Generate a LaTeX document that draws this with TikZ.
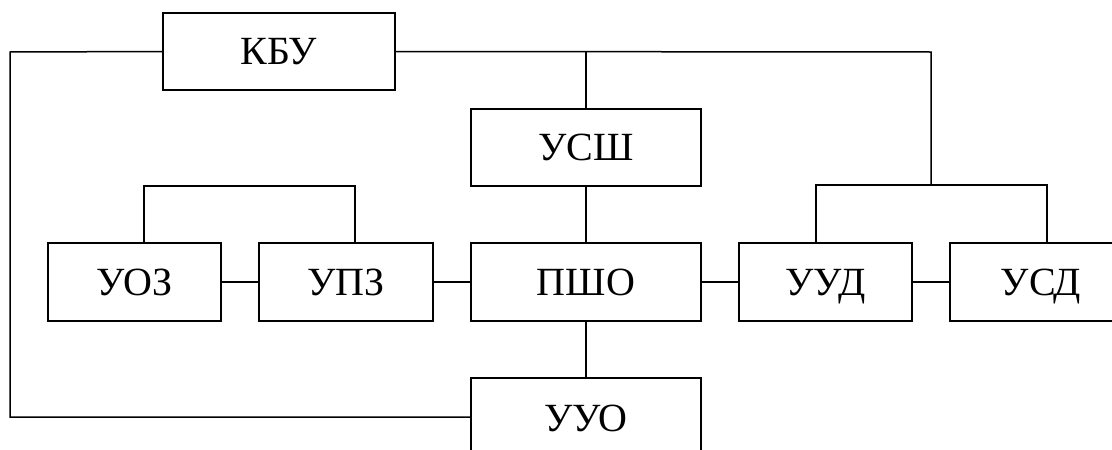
\documentclass[tikz,border=0pt]{standalone}
\usepackage{fontspec}
\setmainfont{Liberation Serif}
\tikzset{
  blk/.style={draw, line width=1.8pt, inner sep=0pt, outer sep=0pt, minimum height=77pt, text height=26.5pt, text depth=0pt, font=\fontsize{40}{48}\selectfont},
  conn/.style={line width=1.5pt}
}
\begin{document}
\begin{tikzpicture}[x=1pt,y=-1pt]
\useasboundingbox (0,0) rectangle (1112,450);
\clip (0,0) rectangle (1112,450);
\fill[white] (0,0) rectangle (1112,450);
% boxes
\node[blk, minimum width=232pt] (kbu) at (279,51.5) {КБУ};
\node[blk, minimum width=230pt] (usk) at (586,147.5) {УСШ};
\node[blk, minimum width=173pt, minimum height=78pt] (uoz) at (134.5,282) {УОЗ};
\node[blk, minimum width=174pt, minimum height=78pt] (upz) at (346,282) {УПЗ};
\node[blk, minimum width=230pt, minimum height=78pt] (psho) at (586,282) {ПШО};
\node[blk, minimum width=173pt, minimum height=78pt] (uud) at (825.5,282) {УУД};
\node[blk, minimum width=182pt, minimum height=78pt] (usd) at (1041,282) {УСД};
\node[blk, minimum width=230pt, minimum height=80pt] (uuo) at (586,418) {УУО};
% coordinates
\coordinate (tl) at (10,52);
\coordinate (bl) at (10,417);
\coordinate (uuol) at (471,417);
\coordinate (tr) at (931,52);
\coordinate (jr) at (931,185);
\coordinate (bra) at (816,185);
\coordinate (brb) at (1047,185);
\coordinate (bla) at (144,186);
\coordinate (blb) at (355,186);
% connectors
\draw[conn] (kbu.west) -- (tl) -- (bl) -- (uuol);
\draw[conn] (kbu.east) -- (tr) -- (jr);
\draw[conn] (kbu.east -| usk.north) -- (usk.north);
\draw[conn] (usk.south) -- (psho.north);
\draw[conn] (psho.south) -- (uuo.north);
\draw[conn] (bra |- uud.north) -- (bra) -- (brb) -- (brb |- usd.north);
\draw[conn] (bla |- uoz.north) -- (bla) -- (blb) -- (blb |- upz.north);
\draw[conn] (uoz.east) -- (upz.west);
\draw[conn] (upz.east) -- (psho.west);
\draw[conn] (psho.east) -- (uud.west);
\draw[conn] (uud.east) -- (usd.west);
\end{tikzpicture}
\end{document}
